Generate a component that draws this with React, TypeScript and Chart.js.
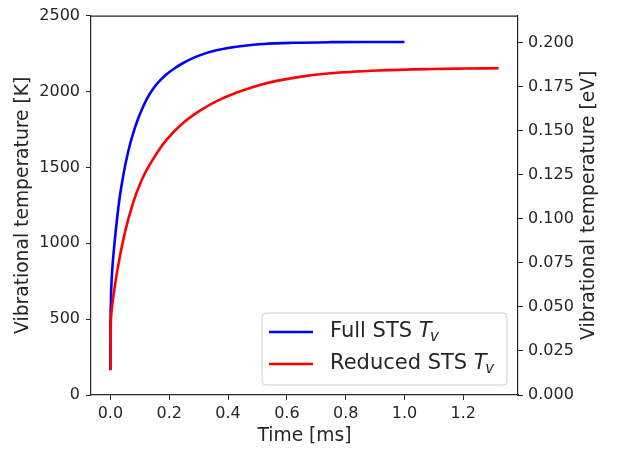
import React, { useEffect, useRef } from "react";
import { Chart, registerables } from "chart.js";

Chart.register(...registerables);

// Full STS Tv (time in ms, temperature in K)
const fullTime = [0, 0.0003, 0.001, 0.0025, 0.005, 0.014, 0.03, 0.045, 0.06, 0.076, 0.095, 0.11, 0.125, 0.144, 0.165, 0.19, 0.22, 0.246, 0.275, 0.303, 0.36, 0.428, 0.52, 0.62, 0.75, 0.87, 1.0];
const fullTemp = [165, 450, 560, 680, 790, 1000, 1280, 1460, 1600, 1715, 1825, 1895, 1955, 2015, 2065, 2112, 2155, 2186, 2215, 2238, 2271, 2295, 2313, 2321, 2325, 2326, 2326];

// Reduced STS Tv
const redTime = [0, 0.0002, 0.0008, 0.002, 0.005, 0.01, 0.025, 0.048, 0.076, 0.105, 0.13, 0.16, 0.19, 0.246, 0.303, 0.36, 0.43, 0.52, 0.633, 0.747, 0.917, 1.088, 1.2, 1.32];
const redTemp = [163, 300, 420, 500, 570, 650, 837, 1060, 1260, 1410, 1505, 1600, 1680, 1790, 1872, 1935, 1993, 2050, 2093, 2120, 2139, 2148, 2151, 2153];

const xTicks = [0, 0.2, 0.4, 0.6, 0.8, 1.0, 1.2];
const yTicksK = [0, 500, 1000, 1500, 2000, 2500];
const yTicksEV = [0, 0.025, 0.05, 0.075, 0.1, 0.125, 0.15, 0.175, 0.2];
const K_TO_EV = 8.617333e-5;

const FONT = "'DejaVu Sans', sans-serif";
const TXT = "#262626";
const TICK_SIZE = 16;
const LABEL_SIZE = 18.7;
const LEGEND_SIZE = 21;
const RIGHT_TITLE = "Vibrational temperature [eV]";

export default function App() {
  const ref = useRef<HTMLCanvasElement | null>(null);
  useEffect(() => {
    const canvas = ref.current!;
    const fixW = (w: number) => (s: any) => { s.width = w; };
    const fixH = (h: number) => (s: any) => { s.height = h; };

    const framePlugin = {
      id: "frame",
      afterDraw(chart: any) {
        const { ctx, chartArea: a } = chart;
        ctx.save();
        ctx.strokeStyle = TXT;
        ctx.lineWidth = 1.2;
        ctx.beginPath();
        ctx.moveTo(a.left, a.top + 0.5);
        ctx.lineTo(a.right, a.top + 0.5);
        ctx.stroke();

        // right axis title, reading bottom-to-top
        ctx.save();
        ctx.translate(589, (a.top + a.bottom) / 2);
        ctx.rotate(-Math.PI / 2);
        ctx.fillStyle = TXT;
        ctx.font = `${LABEL_SIZE}px ${FONT}`;
        ctx.textAlign = "center";
        ctx.textBaseline = "middle";
        ctx.fillText(RIGHT_TITLE, 0, 0);
        ctx.restore();

        // legend
        const bx = 262, by = 313, bw = 245, bh = 72, r = 4;
        ctx.fillStyle = "rgba(255,255,255,0.85)";
        ctx.strokeStyle = "#d0d0d0";
        ctx.lineWidth = 1;
        ctx.beginPath();
        ctx.moveTo(bx + r, by);
        ctx.lineTo(bx + bw - r, by);
        ctx.quadraticCurveTo(bx + bw, by, bx + bw, by + r);
        ctx.lineTo(bx + bw, by + bh - r);
        ctx.quadraticCurveTo(bx + bw, by + bh, bx + bw - r, by + bh);
        ctx.lineTo(bx + r, by + bh);
        ctx.quadraticCurveTo(bx, by + bh, bx, by + bh - r);
        ctx.lineTo(bx, by + r);
        ctx.quadraticCurveTo(bx, by, bx + r, by);
        ctx.closePath();
        ctx.fill();
        ctx.stroke();

        const entries = [
          { label: "Full STS ", color: "#0000ff", y: 332 },
          { label: "Reduced STS ", color: "#ff0000", y: 364 },
        ];
        for (const e of entries) {
          ctx.strokeStyle = e.color;
          ctx.lineWidth = 2.6;
          ctx.beginPath();
          ctx.moveTo(269, e.y);
          ctx.lineTo(313, e.y);
          ctx.stroke();
          ctx.fillStyle = TXT;
          ctx.textBaseline = "middle";
          ctx.textAlign = "left";
          ctx.font = `${LEGEND_SIZE}px ${FONT}`;
          ctx.fillText(e.label, 330, e.y);
          let x = 330 + ctx.measureText(e.label).width;
          ctx.font = `italic ${LEGEND_SIZE}px ${FONT}`;
          ctx.fillText("T", x, e.y);
          x += ctx.measureText("T").width - 1.5;
          ctx.font = `italic ${Math.round(LEGEND_SIZE * 0.7)}px ${FONT}`;
          ctx.fillText("v", x, e.y + 5);
        }
        ctx.restore();
      },
    };

    const chart = new Chart(canvas, {
      type: "line",
      data: {
        datasets: [
          {
            label: "Reduced STS Tv",
            data: redTime.map((t, i) => ({ x: t, y: redTemp[i] })),
            borderColor: "#ff0000",
            borderWidth: 2.6,
            pointRadius: 0,
            cubicInterpolationMode: "monotone",
            yAxisID: "y",
            order: 0,
          },
          {
            label: "Full STS Tv",
            data: fullTime.map((t, i) => ({ x: t, y: fullTemp[i] })),
            borderColor: "#0000ff",
            borderWidth: 2.6,
            pointRadius: 0,
            cubicInterpolationMode: "monotone",
            yAxisID: "y",
            order: 1,
          },
        ],
      },
      options: {
        responsive: false,
        animation: false,
        layout: { padding: { top: 12, left: 0, right: 0, bottom: 0 } },
        plugins: { legend: { display: false }, tooltip: { enabled: false } },
        scales: {
          x: {
            type: "linear",
            min: -0.066,
            max: 1.386,
            afterBuildTicks: (s: any) => { s.ticks = xTicks.map((v) => ({ value: v })); },
            afterFit: fixH(55),
            border: { display: true, color: TXT, width: 1.2 },
            grid: { drawOnChartArea: false, drawTicks: true, tickLength: 5, color: TXT },
            ticks: { color: TXT, font: { family: FONT, size: TICK_SIZE }, padding: 4, maxRotation: 0, callback: (v: any) => Number(v).toFixed(1) },
            title: { display: true, text: "Time [ms]", color: TXT, font: { family: FONT, size: LABEL_SIZE }, padding: { top: 0, bottom: 3 } },
          },
          y: {
            type: "linear",
            position: "left",
            min: 0,
            max: 2500,
            afterBuildTicks: (s: any) => { s.ticks = yTicksK.map((v) => ({ value: v })); },
            afterFit: fixW(91),
            border: { display: true, color: TXT, width: 1.2 },
            grid: { drawOnChartArea: false, drawTicks: true, tickLength: 5, color: TXT },
            ticks: { color: TXT, font: { family: FONT, size: TICK_SIZE }, padding: 6, callback: (v: any) => String(v) },
            title: { display: true, text: "Vibrational temperature [K]", color: TXT, font: { family: FONT, size: LABEL_SIZE }, padding: { top: 11.5, bottom: 0 } },
          },
          y2: {
            type: "linear",
            position: "right",
            min: 0,
            max: 2500 * K_TO_EV,
            afterBuildTicks: (s: any) => { s.ticks = yTicksEV.map((v) => ({ value: v })); },
            afterFit: fixW(99),
            border: { display: true, color: TXT, width: 1.2 },
            grid: { drawOnChartArea: false, drawTicks: true, tickLength: 5, color: TXT },
            ticks: { color: TXT, font: { family: FONT, size: TICK_SIZE }, padding: 5, callback: (v: any) => Number(v).toFixed(3) },
            title: { display: false },
          },
        },
      },
      plugins: [framePlugin],
    } as any);
    return () => chart.destroy();
  }, []);

  return (
    <div style={{ position: "fixed", left: 0, top: 0, width: 617, height: 450, background: "#fff" }}>
      <canvas ref={ref} width={617} height={450} style={{ display: "block" }} />
    </div>
  );
}
